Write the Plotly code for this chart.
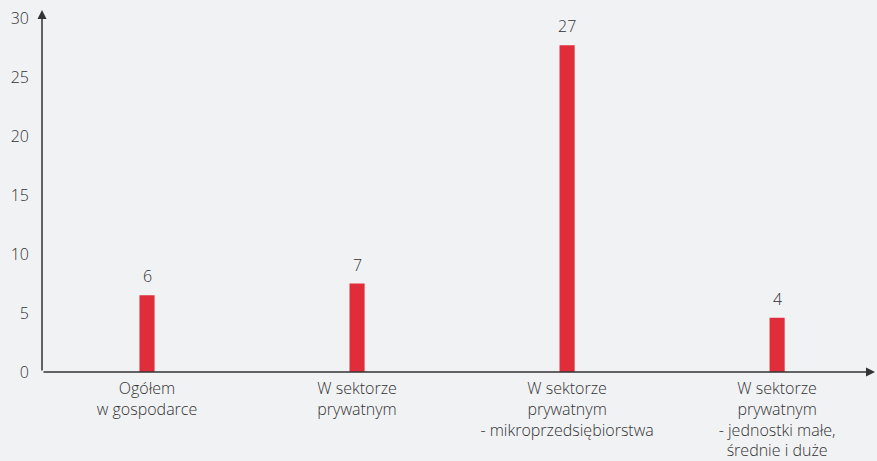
import plotly.graph_objects as go

categories = [
    "Ogółem<br>w gospodarce",
    "W sektorze<br>prywatnym",
    "W sektorze<br>prywatnym<br>- mikroprzedsiębiorstwa",
    "W sektorze<br>prywatnym<br>- jednostki małe,<br>średnie i duże",
]
values = [6.5, 7.5, 27.7, 4.6]
value_labels = ["6", "7", "27", "4"]
y_ticks = [0, 5, 10, 15, 20, 25, 30]

bg = "#f1f2f4"
bar_color = "#e02d3a"
text_color = "#333333"
font_family = "Open Sans, Arial, sans-serif"

fig = go.Figure()
fig.add_trace(go.Bar(
    x=list(range(len(categories))),
    y=values,
    width=0.072,
    marker=dict(color=bar_color, line=dict(width=0)),
    hoverinfo="skip",
))

# value labels above bars
for i, (v, lab) in enumerate(zip(values, value_labels)):
    fig.add_annotation(x=i, y=v, text=lab, showarrow=False, yanchor="bottom",
                       yshift=6, font=dict(size=16, color=text_color, family=font_family))

x_lo, x_hi = -0.5, 3.466
y_top = 30.7

# axis lines with arrow heads
fig.add_annotation(x=x_lo, y=y_top, ax=x_lo, ay=0, xref="x", yref="y", axref="x", ayref="y",
                   showarrow=True, arrowhead=2, arrowsize=1.2, arrowwidth=1.5,
                   arrowcolor="#333333", text="")
fig.add_annotation(x=x_hi, y=0, ax=x_lo, ay=0, xref="x", yref="y", axref="x", ayref="y",
                   showarrow=True, arrowhead=2, arrowsize=1.2, arrowwidth=1.5,
                   arrowcolor="#333333", text="")

fig.update_layout(
    width=877,
    height=461,
    margin=dict(l=42, r=2, t=10, b=89),
    paper_bgcolor=bg,
    plot_bgcolor=bg,
    showlegend=False,
    font=dict(family=font_family, size=16, color=text_color, weight=300),
    xaxis=dict(
        range=[x_lo, x_hi],
        tickmode="array",
        tickvals=list(range(len(categories))),
        ticktext=categories,
        showgrid=False,
        zeroline=False,
        showline=False,
        ticks="",
        automargin=False,
        ticklabelstandoff=5,
        tickfont=dict(size=16, color=text_color),
    ),
    yaxis=dict(
        range=[0, y_top],
        tickmode="array",
        tickvals=y_ticks,
        showgrid=False,
        zeroline=False,
        showline=False,
        ticks="",
        automargin=False,
        ticklabelstandoff=12,
        tickfont=dict(size=16, color=text_color),
    ),
)

fig.write_html("out.html", config={"displayModeBar": False},
               post_script="document.body.style.margin='0';")
